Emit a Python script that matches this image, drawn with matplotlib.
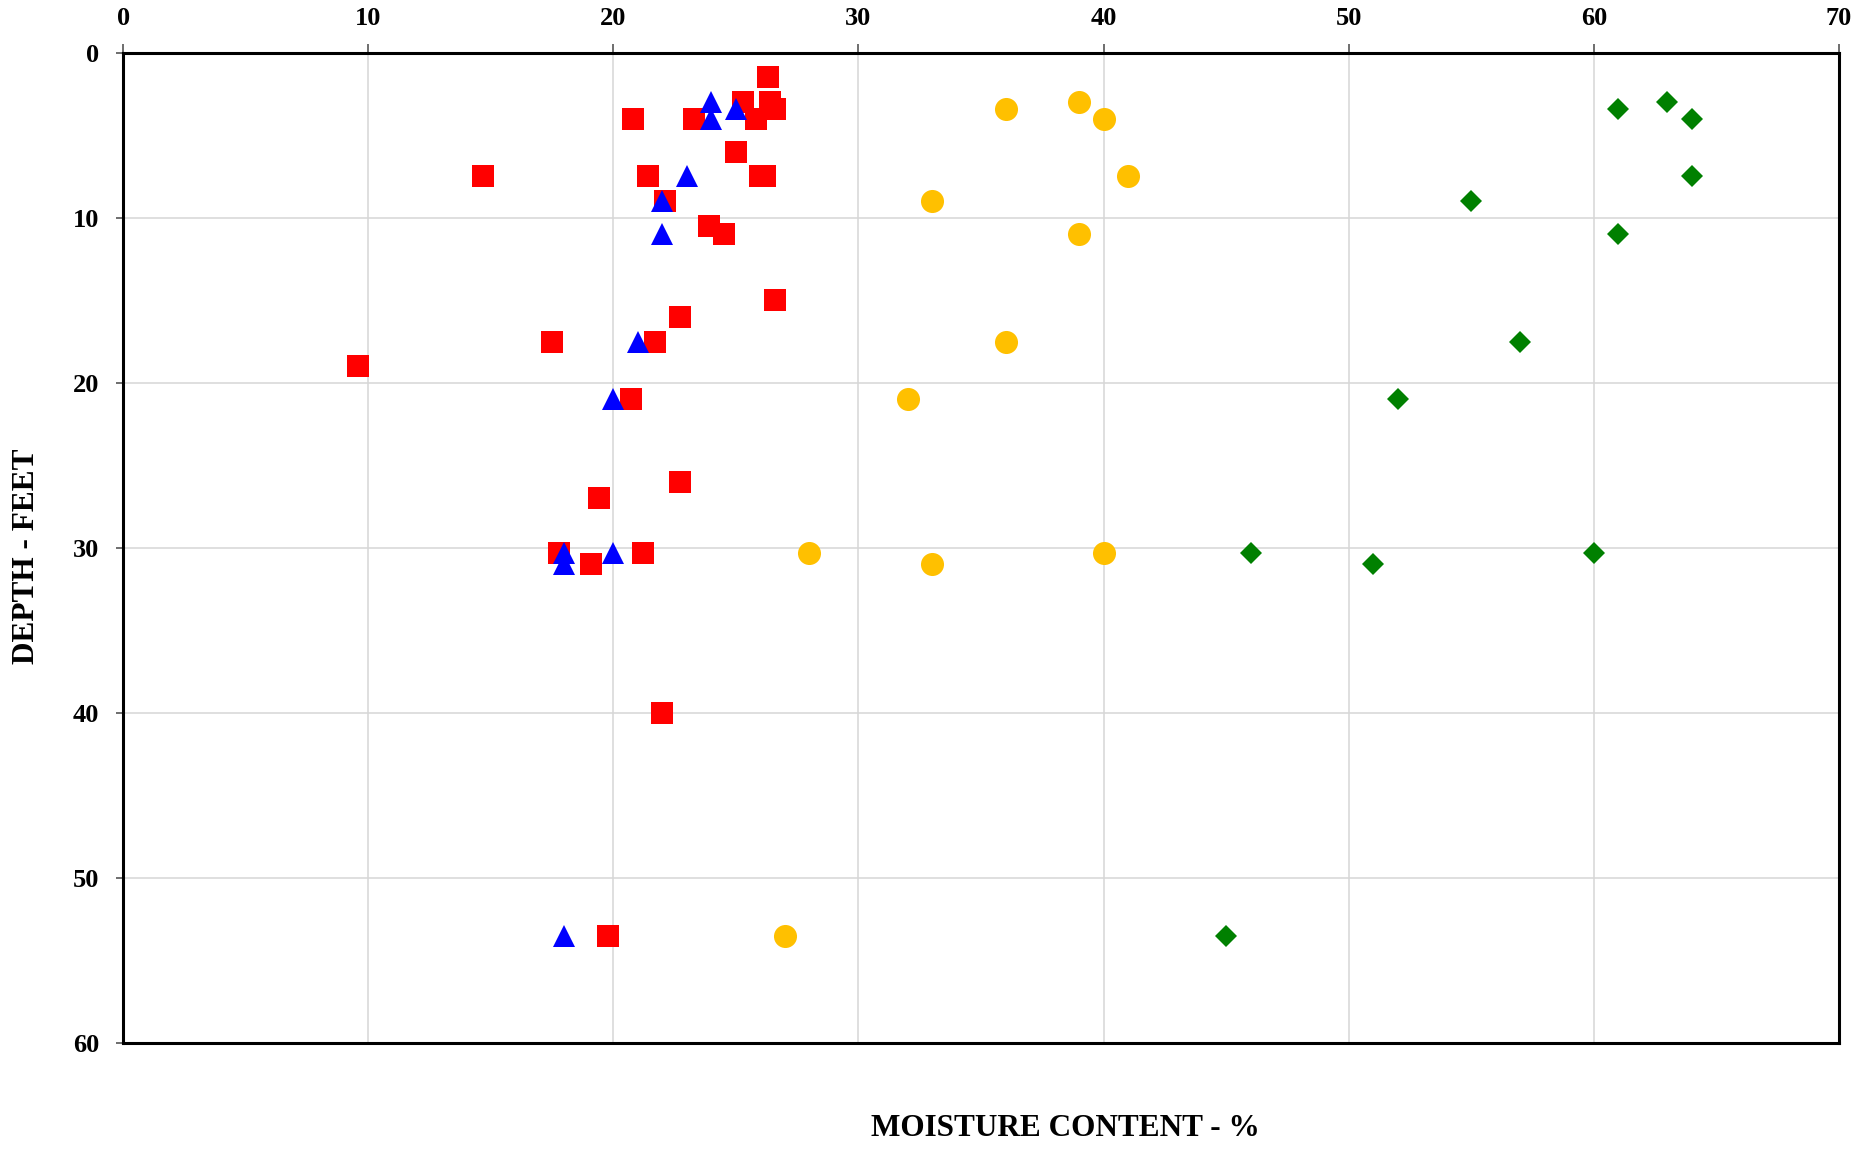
import matplotlib
matplotlib.use("Agg")
import matplotlib.pyplot as plt

# Moisture content (%) vs. depth (ft) for four boring series
red_moisture = [26.3, 25.3, 26.4, 26.6, 25.8, 23.3, 20.8, 25.0, 14.7, 21.4, 26.0, 26.2,
                22.1, 23.9, 24.5, 26.6, 22.7, 17.5, 21.7, 9.6, 20.7, 22.7, 19.4, 17.8,
                21.2, 19.1, 22.0, 19.8]
red_depth = [1.5, 3.0, 3.0, 3.4, 4.0, 4.0, 4.0, 6.0, 7.5, 7.5, 7.5, 7.5,
             9.0, 10.5, 11.0, 15.0, 16.0, 17.5, 17.5, 19.0, 21.0, 26.0, 27.0, 30.3,
             30.3, 31.0, 40.0, 53.5]

blue_moisture = [24.0, 24.0, 25.0, 23.0, 22.0, 22.0, 21.0, 20.0, 18.0, 18.0, 20.0, 18.0]
blue_depth = [3.0, 4.0, 3.4, 7.5, 9.0, 11.0, 17.5, 21.0, 30.3, 31.0, 30.3, 53.5]

gold_moisture = [36.0, 39.0, 40.0, 41.0, 33.0, 39.0, 36.0, 32.0, 28.0, 33.0, 40.0, 27.0]
gold_depth = [3.4, 3.0, 4.0, 7.5, 9.0, 11.0, 17.5, 21.0, 30.3, 31.0, 30.3, 53.5]

green_moisture = [61.0, 63.0, 64.0, 64.0, 55.0, 61.0, 57.0, 52.0, 46.0, 51.0, 60.0, 45.0]
green_depth = [3.4, 3.0, 4.0, 7.5, 9.0, 11.0, 17.5, 21.0, 30.3, 31.0, 30.3, 53.5]

x_ticks = [0, 10, 20, 30, 40, 50, 60, 70]
y_ticks = [0, 10, 20, 30, 40, 50, 60]

plt.rcParams["font.family"] = ["Liberation Serif", "DejaVu Serif"]
plt.rcParams["font.weight"] = "bold"

fig = plt.figure(figsize=(18.76, 11.52), dpi=100)
ax = fig.add_axes([0.0656, 0.0946, 0.9147, 0.8597])

ax.plot(gold_moisture, gold_depth, "o", color="#FFC000", markersize=16.6, markeredgewidth=0, zorder=3)
ax.plot(green_moisture, green_depth, "D", color="#008000", markersize=11.7, markeredgewidth=0, zorder=3)
ax.plot(red_moisture, red_depth, "s", color="#FF0000", markersize=16.3, markeredgewidth=0, zorder=3)
ax.plot(blue_moisture, blue_depth, "^", color="#0000FF", markersize=16.3, markeredgewidth=0, zorder=4)

ax.set_xlim(0, 70)
ax.set_ylim(60, 0)
ax.set_xticks(x_ticks)
ax.set_yticks(y_ticks)
ax.xaxis.tick_top()
ax.grid(True, color="#d6d6d6", linewidth=1.1, zorder=0)
ax.set_axisbelow(True)

for spine in ax.spines.values():
    spine.set_linewidth(2.2)
    spine.set_color("black")

ax.tick_params(axis="x", top=True, bottom=False, direction="out", length=6.5, width=1.2,
               color="#555555", pad=10, labelsize=19)
ax.tick_params(axis="y", left=True, right=False, direction="out", length=5, width=1.2,
               color="#555555", pad=12, labelsize=19)
for lbl in ax.get_xticklabels() + ax.get_yticklabels():
    lbl.set_fontweight("bold")

fig.text(0.568, 0.02, "MOISTURE CONTENT - %", ha="center", va="center",
         fontsize=22.5, fontweight="bold")
fig.text(0.014, 0.517, "DEPTH - FEET", ha="center", va="center", rotation=90,
         fontsize=22.5, fontweight="bold")

fig.savefig("out.png", dpi=100, facecolor="white")
